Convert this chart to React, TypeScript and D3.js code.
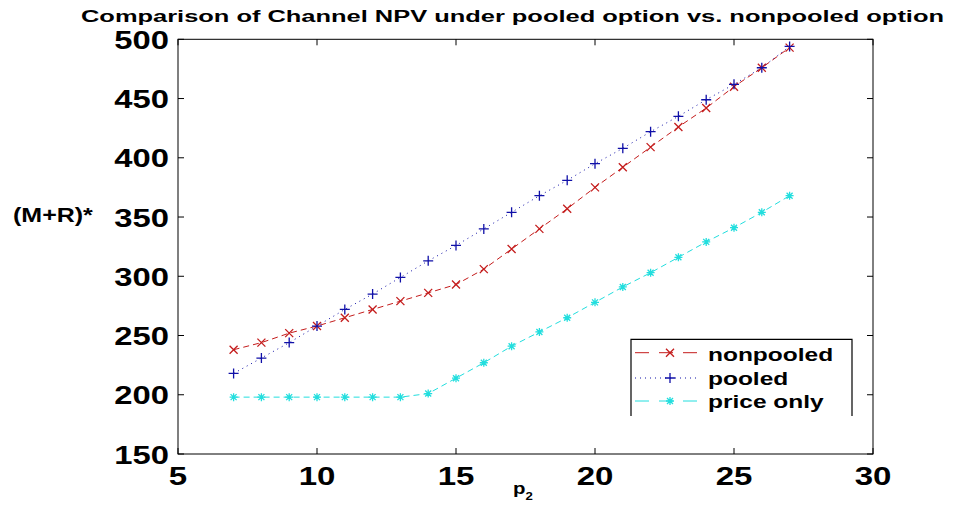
import React from "react";
import * as d3 from "d3";

const xValues = [7, 8, 9, 10, 11, 12, 13, 14, 15, 16, 17, 18, 19, 20, 21, 22, 23, 24, 25, 26, 27];
const nonpooled = [238, 244, 252, 258, 265, 272, 279, 286, 293, 306, 323, 340, 357, 375, 392, 409, 426, 442, 460, 476, 493];
const pooled = [218, 231, 244, 258, 272, 285, 299, 313, 326, 340, 354, 368, 381, 395, 408, 422, 435, 449, 462, 476, 494];
const priceOnly = [198, 198, 198, 198, 198, 198, 198, 201, 214, 227, 241, 253, 265, 278, 291, 303, 316, 329, 341, 354, 368];
const xTicks = [5, 10, 15, 20, 25, 30];
const yTicks = [150, 200, 250, 300, 350, 400, 450, 500];
const seriesNames = ["nonpooled", "pooled", "price only"];

const W = 958;
const H = 512;
const L = 178, R = 873, T = 39.3, B = 454;
const FONT = "'Liberation Sans', Arial, Helvetica, sans-serif";

type Marker = "x" | "+" | "*";

function markerPath(m: Marker, cx: number, cy: number): string {
  const s = 4;
  const p = 5;
  if (m === "x") return `M${cx - s},${cy - s}L${cx + s},${cy + s}M${cx - s},${cy + s}L${cx + s},${cy - s}`;
  if (m === "+") return `M${cx - p},${cy}L${cx + p},${cy}M${cx},${cy - p}L${cx},${cy + p}`;
  return `M${cx - s},${cy}L${cx + s},${cy}M${cx},${cy - s}L${cx},${cy + s}M${cx - 3},${cy - 3}L${cx + 3},${cy + 3}M${cx - 3},${cy + 3}L${cx + 3},${cy - 3}`;
}

export default function App() {
  const x = d3.scaleLinear().domain([5, 30]).range([L, R]);
  const y = d3.scaleLinear().domain([150, 500]).range([B, T]);

  const series = [
    { name: seriesNames[0], values: nonpooled, color: "#c41c1c", dash: "6,4", marker: "x" as Marker },
    { name: seriesNames[1], values: pooled, color: "#1010a8", dash: "1,4", marker: "+" as Marker },
    { name: seriesNames[2], values: priceOnly, color: "#22dede", dash: "6,4", marker: "*" as Marker },
  ];

  const line = d3
    .line<number>()
    .x((_, i) => x(xValues[i]))
    .y((v) => y(v));

  const tickLen = 6;
  const legendX0 = 635, legendX1 = 697;
  const legendY = [352.7, 378, 401];
  const legendTextY = [360.5, 384.5, 408];

  return (
    <svg
      width={W}
      height={H}
      viewBox={`0 0 ${W} ${H}`}
      style={{ position: "absolute", left: 0, top: 0, background: "#ffffff" }}
    >
      <rect x={0} y={0} width={W} height={H} fill="#ffffff" />
      {/* Title */}
      <text
        x={81}
        y={22}
        fontFamily={FONT}
        fontWeight="bold"
        fontSize={16}
        textLength={863}
        lengthAdjust="spacingAndGlyphs"
        fill="#000"
      >
        Comparison of Channel NPV under pooled option vs. nonpooled option
      </text>

      {/* Axes box */}
      <rect x={L} y={T} width={R - L} height={B - T} fill="none" stroke="#000" strokeWidth={1} />

      {/* X ticks */}
      {xTicks.map((t) => (
        <g key={"xt" + t}>
          <line x1={x(t)} x2={x(t)} y1={B} y2={B - tickLen} stroke="#000" />
          <line x1={x(t)} x2={x(t)} y1={T} y2={T + tickLen} stroke="#000" />
          <g transform={`translate(${x(t)},485) scale(1.27,1)`}>
            <text textAnchor="middle" fontFamily={FONT} fontWeight="bold" fontSize={26} fill="#000">
              {t}
            </text>
          </g>
        </g>
      ))}

      {/* Y ticks */}
      {yTicks.map((t) => (
        <g key={"yt" + t}>
          <line x1={L} x2={L + tickLen} y1={y(t)} y2={y(t)} stroke="#000" />
          <line x1={R} x2={R - tickLen} y1={y(t)} y2={y(t)} stroke="#000" />
          <g transform={`translate(169,${y(t) + 9.5}) scale(1.26,1)`}>
            <text textAnchor="end" fontFamily={FONT} fontWeight="bold" fontSize={26} fill="#000">
              {t}
            </text>
          </g>
        </g>
      ))}

      {/* Axis labels */}
      <g transform={`translate(13,222) scale(1.25,1)`}>
        <text fontFamily={FONT} fontWeight="bold" fontSize={20} fill="#000">
          (M+R)*
        </text>
      </g>
      <g transform={`translate(513,494) scale(1.2,1)`}>
        <text fontFamily={FONT} fontWeight="bold" fontSize={17} fill="#000">
          p
          <tspan fontSize={11} dy={6}>2</tspan>
        </text>
      </g>

      {/* Series */}
      {series.map((s) => (
        <g key={s.name}>
          <path d={line(s.values) || ""} fill="none" stroke={s.color} strokeWidth={1} strokeDasharray={s.dash} />
          {s.values.map((v, i) => (
            <path key={i} d={markerPath(s.marker, x(xValues[i]), y(v))} stroke={s.color} strokeWidth={1.3} fill="none" />
          ))}
        </g>
      ))}

      {/* Legend */}
      <path d="M631,416V339.3H852V416" fill="#fff" stroke="#000" strokeWidth={1.2} />
      {series.map((s, i) => (
        <g key={"lg" + s.name}>
          <line
            x1={legendX0}
            x2={legendX1}
            y1={legendY[i]}
            y2={legendY[i]}
            stroke={s.color}
            strokeWidth={1}
            strokeDasharray={s.dash === "1,4" ? "1,4" : "14,10"}
          />
          <path d={markerPath(s.marker, (legendX0 + legendX1) / 2 + 4, legendY[i])} stroke={s.color} strokeWidth={1.3} fill="none" />
          <g transform={`translate(708,${legendTextY[i]}) scale(1.29,1)`}>
            <text fontFamily={FONT} fontWeight="bold" fontSize={19} fill="#000">
              {s.name}
            </text>
          </g>
        </g>
      ))}
    </svg>
  );
}
